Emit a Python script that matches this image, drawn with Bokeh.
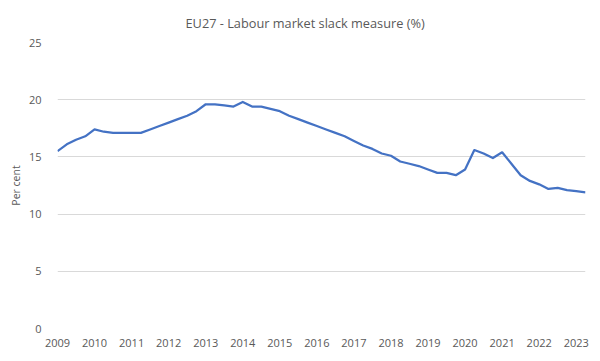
from bokeh.plotting import figure
from bokeh.models import Range1d, FixedTicker
from bokeh.embed import file_html
from bokeh.resources import INLINE

title_text = "EU27 - Labour market slack measure (%)"
y_label = "Per cent"
years = [2009, 2010, 2011, 2012, 2013, 2014, 2015, 2016, 2017, 2018, 2019, 2020, 2021, 2022, 2023]
# quarterly slack measure, 2009Q1 .. 2023Q2
slack = [
    15.5, 16.1, 16.5, 16.8,
    17.4, 17.2, 17.1, 17.1,
    17.1, 17.1, 17.4, 17.7,
    18.0, 18.3, 18.6, 19.0,
    19.6, 19.6, 19.5, 19.4,
    19.8, 19.4, 19.4, 19.2,
    19.0, 18.6, 18.3, 18.0,
    17.7, 17.4, 17.1, 16.8,
    16.4, 16.0, 15.7, 15.3,
    15.1, 14.6, 14.4, 14.2,
    13.9, 13.6, 13.6, 13.4,
    13.9, 15.6, 15.3, 14.9,
    15.4, 14.4, 13.4, 12.9,
    12.6, 12.2, 12.3, 12.1,
    12.0, 11.9,
]
y_ticks = [0, 5, 10, 15, 20, 25]

quarter_idx = list(range(len(slack)))
year_ticks = [4 * i for i in range(len(years))]

TEXT = "#595959"
FONT = "Open Sans"

p = figure(frame_width=528, frame_height=286,
           output_backend="svg", toolbar_location=None,
           min_border_left=57, min_border_right=6, min_border_top=41, min_border_bottom=20,
           x_range=Range1d(0, len(slack) - 1), y_range=Range1d(0, 25))
p.outline_line_color = None
p.background_fill_color = "white"
p.border_fill_color = "white"

p.line(quarter_idx, slack, line_color="#4472C4", line_width=2.25, line_join="round")

p.xaxis.ticker = FixedTicker(ticks=year_ticks)
p.xaxis.major_label_overrides = {t: str(y) for t, y in zip(year_ticks, years)}
p.yaxis.ticker = FixedTicker(ticks=y_ticks)

for ax in (p.xaxis[0], p.yaxis[0]):
    ax.axis_line_color = None
    ax.major_tick_line_color = None
    ax.minor_tick_line_color = None
    ax.major_label_text_color = TEXT
    ax.major_label_text_font = FONT
    ax.major_label_text_font_size = "11px"

p.xaxis.major_label_standoff = 4
p.yaxis.major_label_standoff = 10
p.yaxis.axis_label = y_label
p.yaxis.axis_label_text_font = FONT
p.yaxis.axis_label_text_font_size = "10.5px"
p.yaxis.axis_label_text_font_style = "normal"
p.yaxis.axis_label_text_color = TEXT
p.yaxis.axis_label_standoff = 3

p.xgrid.grid_line_color = None
p.ygrid.grid_line_color = "#D9D9D9"
p.ygrid.grid_line_width = 1

p.title.text = title_text
p.title.align = "left"
p.title.offset = 128
p.title.text_font = FONT
p.title.text_font_size = "12.75px"
p.title.text_font_style = "normal"
p.title.text_color = TEXT
p.title.standoff = 22

open("out.html", "w").write(file_html(p, INLINE))
